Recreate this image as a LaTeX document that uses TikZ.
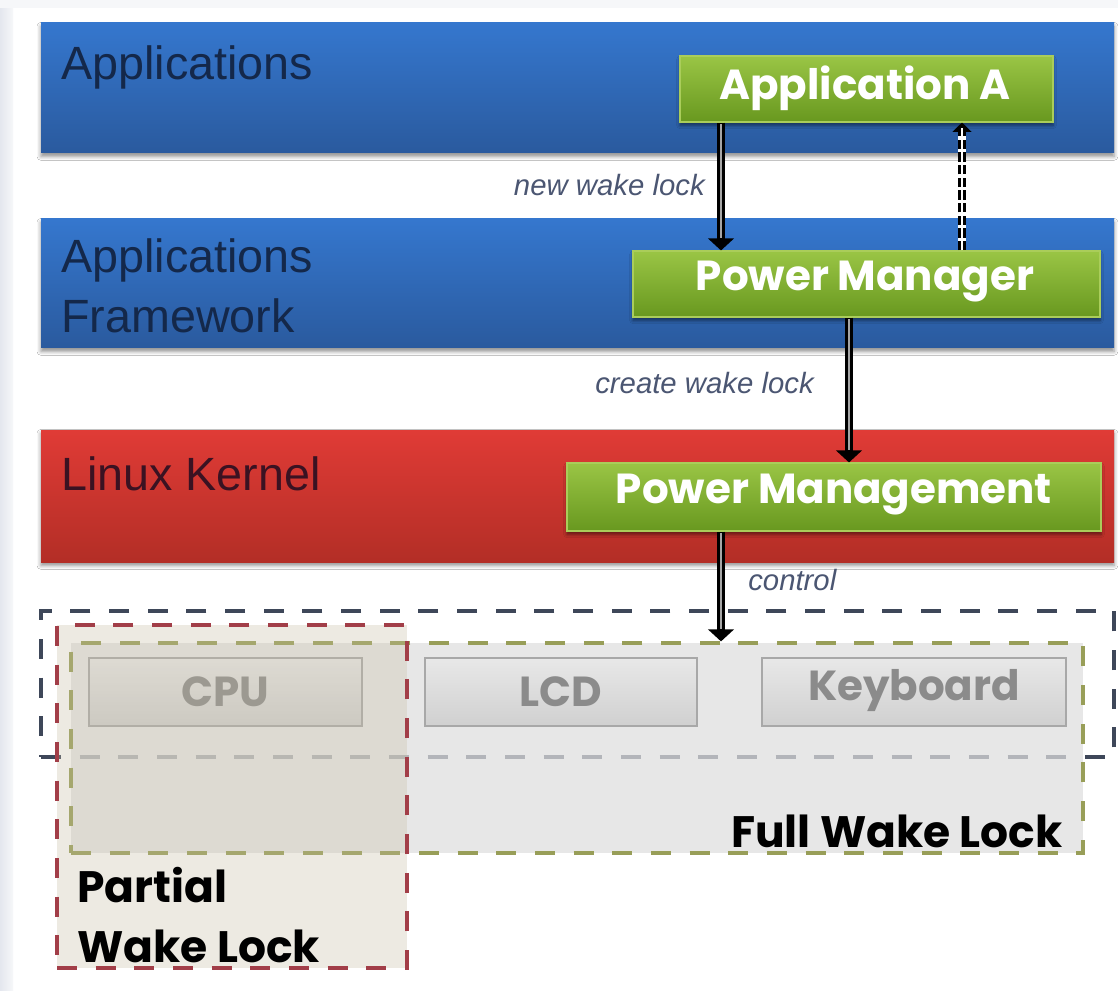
\documentclass[tikz,border=0pt]{standalone}
\usepackage{fontspec}
\setmainfont{Liberation Sans}
\newfontfamily\roundfont{Poppins}
\usetikzlibrary{arrows.meta,fit,shadows.blur}

\definecolor{blueT}{HTML}{3577CE}
\definecolor{blueB}{HTML}{2A5A9E}
\definecolor{redT}{HTML}{E03B36}
\definecolor{redB}{HTML}{B32E26}
\definecolor{greenT}{HTML}{9AC545}
\definecolor{greenB}{HTML}{68981F}
\definecolor{greenEdge}{HTML}{AACD5A}
\definecolor{navyText}{HTML}{14284A}
\definecolor{kernelText}{HTML}{3A1222}
\definecolor{flowText}{HTML}{4B5672}
\definecolor{devT}{HTML}{E8E8E8}
\definecolor{devB}{HTML}{D0D0D0}
\definecolor{devEdge}{HTML}{A8A8A8}
\definecolor{devText}{HTML}{8B8B8B}
\definecolor{slateDash}{HTML}{3E4759}
\definecolor{redDash}{HTML}{A23E48}
\definecolor{oliveDash}{HTML}{989E58}
\definecolor{fullFill}{HTML}{DFDFDF}
\definecolor{partFill}{HTML}{C6BCA2}
\definecolor{stripL}{HTML}{E4E7EE}
\definecolor{stripR}{HTML}{F6F7F9}

\begin{document}
\begin{tikzpicture}[x=0.75pt,y=-0.75pt,
  band/.style={rectangle, inner sep=0pt,
    blur shadow={shadow xshift=0pt, shadow yshift=-2.5pt, shadow blur radius=3pt, shadow opacity=45}},
  blueband/.style={band, top color=blueT, bottom color=blueB},
  redband/.style={band, top color=redT, bottom color=redB},
  bandtext/.style={font=\fontsize{35}{40}\selectfont, anchor=base west, inner sep=0pt},
  module/.style={rectangle, inner sep=0pt, draw=greenEdge, line width=0.8pt,
    top color=greenT, bottom color=greenB,
    blur shadow={shadow xshift=0pt, shadow yshift=-2.5pt, shadow blur radius=2.5pt, shadow opacity=50}},
  moduletext/.style={text=white, font=\roundfont\bfseries\fontsize{31.5}{36}\selectfont, inner sep=0pt},
  device/.style={rectangle, inner sep=0pt, draw=devEdge, line width=0.8pt, top color=devT, bottom color=devB},
  devicetext/.style={text=devText, font=\roundfont\bfseries\fontsize{31.5}{36}\selectfont, inner sep=0pt},
  frame/.style={rectangle, inner sep=0pt, line width=2.4pt, dash pattern=on 15pt off 14pt},
  locktext/.style={text=black, font=\roundfont\bfseries\fontsize{33}{40}\selectfont, inner sep=0pt},
  flow/.style={line width=6.5pt, black, -{Triangle[width=19pt,length=9pt]}},
  flowcore/.style={line width=1.8pt, black!35, shorten >=9pt, shorten <=1pt},
  reply/.style={line width=6pt, black, dash pattern=on 7pt off 2.5pt, -{Triangle[width=14pt,length=7pt]}},
  replycore/.style={line width=1.6pt, white, shorten >=4pt},
  flowlabel/.style={font=\itshape\fontsize{22}{26}\selectfont, text=flowText, inner sep=0pt}
]
\useasboundingbox (0,0) rectangle (1118,991);

% page background
\fill[white] (0,0) rectangle (1118,991);
\fill[left color=stripL, right color=stripR] (0,0) rectangle (13,991);
\fill[stripR] (0,0) rectangle (1118,8);

% software layers
\node[blueband, fit={(41,23) (1114,153)}] (apps) {};
\node[blueband, fit={(41,219) (1114,348)}] (framework) {};
\node[redband, fit={(41,430) (1114,562)}] (kernel) {};

\node[bandtext, text=navyText] (appsL) at (61,80) {Applications};
\node[bandtext, text=navyText] (fwL1) at (61,273) {Applications};
\node[bandtext, text=navyText] (fwL2) at (61,333) {Framework};
\node[bandtext, text=kernelText] (kernelL) at (61,490) {Linux Kernel};

% components inside the layers
\node[module, fit={(680,56) (1053,122)}] (appA) {};
\node[moduletext] at (865,88) {Application A};
\node[module, fit={(633,251) (1100,317)}] (pmgr) {};
\node[moduletext] at (865,282) {Power Manager};
\node[module, fit={(567,463) (1101,531)}] (pmgt) {};
\node[moduletext] at (834,495) {Power Management};

% hardware area
\node[frame, draw=slateDash, fit={(41,611) (1114,757)}] (hw) {};
\node[frame, draw=oliveDash, fill=fullFill, fill opacity=0.73, fit={(71,643) (1083,853)}] (full) {};

\node[device, fit={(89,658) (362,726)}] (cpu) {};
\node[devicetext] at (cpu.center) {CPU};
\node[device, fit={(425,658) (697,726)}] (lcd) {};
\node[devicetext] at (lcd.center) {LCD};
\node[device, fit={(762,658) (1066,726)}] (kbd) {};
\node[devicetext] at ([yshift=1pt]kbd.center) {Keyboard};

\node[frame, draw=redDash, fill=partFill, fill opacity=0.3, fit={(57,625) (407,968)}] (partial) {};

\node[locktext, anchor=base east] (fullL) at (1063,847) {Full Wake Lock};
\node[locktext, anchor=base west] (partL1) at (77,902) {Partial};
\node[locktext, anchor=base west] (partL2) at (77,962) {Wake Lock};

% connectors
\coordinate (xNew) at (721,0);
\coordinate (xBack) at (962,0);
\coordinate (xCreate) at (849,0);
\coordinate (xCtl) at (721,0);

\draw[flow] (xNew |- appA.south) -- (xNew |- pmgr.north);
\draw[flowcore] (xNew |- appA.south) -- (xNew |- pmgr.north);

\draw[white, line width=6pt] (xBack |- pmgr.north) -- ([yshift=-3pt]xBack |- appA.south);
\draw[reply] (xBack |- pmgr.north) -- (xBack |- appA.south);
\draw[replycore] (xBack |- pmgr.north) -- (xBack |- appA.south);

\draw[flow] (xCreate |- pmgr.south) -- (xCreate |- pmgt.north);
\draw[flowcore] (xCreate |- pmgr.south) -- (xCreate |- pmgt.north);

\draw[flow] (xCtl |- pmgt.south) -- (xCtl |- full.north);
\draw[flowcore] (xCtl |- pmgt.south) -- (xCtl |- full.north);

\node[flowlabel, anchor=base east] (newL) at (705,196) {new wake lock};
\node[flowlabel, anchor=base east] (createL) at (814,393) {create wake lock};
\node[flowlabel, anchor=base west] (ctlL) at (748,590) {control};
\end{tikzpicture}
\end{document}
